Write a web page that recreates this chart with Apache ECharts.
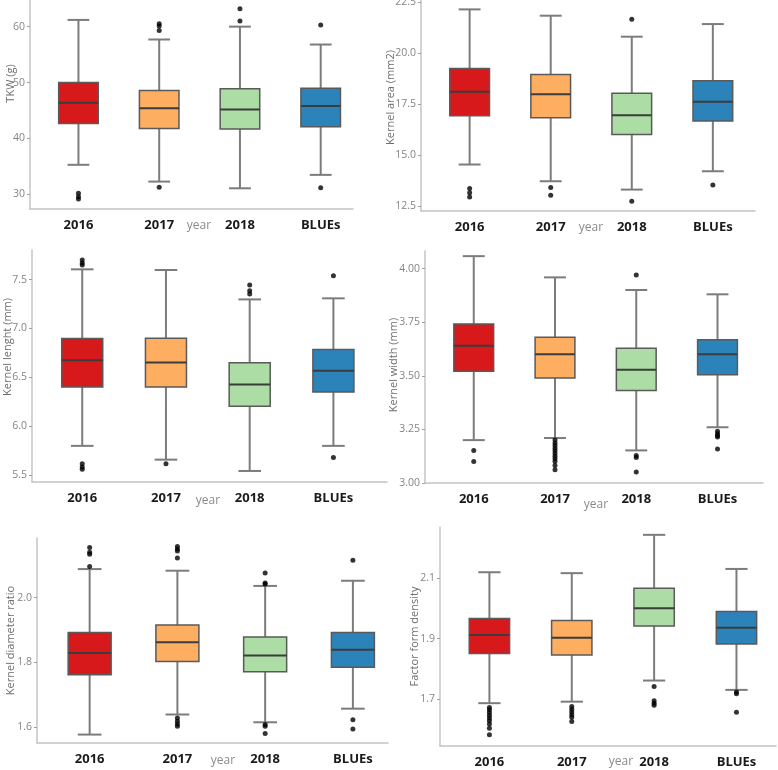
<!DOCTYPE html>
<html><head><meta charset="utf-8">
<script src="https://cdn.jsdelivr.net/npm/echarts@6/dist/echarts.min.js"></script>
<style>html,body{margin:0;padding:0;background:#fff}#c{width:778px;height:770px}</style>
</head><body><div id="c"></div>
<script>
// ---------- data ----------
const categories = ['2016', '2017', '2018', 'BLUEs'];
const colors = ['#d7191c', '#fdae61', '#abdda4', '#2b83ba'];
const xAxisTitle = 'year';

// box stats per category: [lower whisker, Q1, median, Q3, upper whisker]
const tkwBox = [[35.3, 42.7, 46.4, 50.0, 61.2], [32.3, 41.8, 45.4, 48.6, 57.7], [31.1, 41.7, 45.2, 48.9, 60.0], [33.5, 42.1, 45.8, 49.0, 56.8]];
const tkwOutliers = [[30.2, 29.6, 29.2], [60.5, 60.1, 59.3, 31.3], [63.2, 61.0], [60.3, 31.2]];
const tkwTicks = [30, 40, 50, 60];
const tkwRange = [27.4, 64.76];

const areaBox = [[14.55, 16.94, 18.12, 19.26, 22.16], [13.73, 16.84, 18.0, 18.97, 21.85], [13.32, 16.02, 16.97, 18.04, 20.82], [14.22, 16.68, 17.63, 18.66, 21.44]];
const areaOutliers = [[13.37, 13.16, 12.96], [13.42, 13.04], [21.67, 12.75], [13.54]];
const areaTicks = [12.5, 15.0, 17.5, 20.0, 22.5];
const areaRange = [12.27, 22.62];

const lengthBox = [[5.797, 6.40, 6.675, 6.897, 7.605], [5.656, 6.40, 6.651, 6.90, 7.598], [5.54, 6.203, 6.426, 6.648, 7.297], [5.797, 6.35, 6.566, 6.785, 7.308]];
const lengthOutliers = [[7.70, 7.67, 7.65, 5.615, 5.58, 5.557], [5.615], [7.444, 7.386, 7.352], [7.54, 5.677]];
const lengthTicks = [5.5, 6.0, 6.5, 7.0, 7.5];
const lengthRange = [5.427, 7.803];

const widthBox = [[3.200, 3.521, 3.640, 3.742, 4.058], [3.210, 3.490, 3.601, 3.680, 3.959], [3.152, 3.431, 3.528, 3.629, 3.900], [3.260, 3.505, 3.601, 3.668, 3.880]];
const widthOutliers = [[3.152, 3.100], [3.200, 3.187, 3.175, 3.162, 3.150, 3.138, 3.125, 3.113, 3.100, 3.082, 3.062], [3.970, 3.128, 3.119, 3.051], [3.241, 3.230, 3.221, 3.214, 3.159]];
const widthTicks = [3.00, 3.25, 3.50, 3.75, 4.00];
const widthRange = [3.0, 4.082];

const ratioBox = [[1.577, 1.762, 1.829, 1.8925, 2.088], [1.639, 1.803, 1.862, 1.915, 2.083], [1.615, 1.771, 1.821, 1.878, 2.036], [1.657, 1.785, 1.839, 1.8925, 2.052]];
const ratioOutliers = [[2.155, 2.140, 2.134, 2.096], [2.158, 2.150, 2.144, 2.122, 1.628, 1.618, 1.610, 1.603], [2.076, 2.045, 2.042, 1.608, 1.603, 1.580], [2.115, 1.623, 1.594]];
const ratioTicks = [1.6, 1.8, 2.0];
const ratioRange = [1.551, 2.184];

const densityBox = [[1.686, 1.851, 1.912, 1.967, 2.120], [1.691, 1.846, 1.903, 1.960, 2.117], [1.761, 1.942, 2.001, 2.067, 2.244], [1.730, 1.882, 1.936, 1.990, 2.131]];
const densityOutliers = [[1.672, 1.664, 1.655, 1.646, 1.637, 1.628, 1.617, 1.603, 1.581], [1.675, 1.666, 1.657, 1.648, 1.639, 1.625], [1.741, 1.694, 1.686, 1.679], [1.723, 1.717, 1.656]];
const densityTicks = [1.7, 1.9, 2.1];
const densityRange = [1.544, 2.270];

const panels = [
  { name: 'TKW (g)', box: tkwBox, out: tkwOutliers, ticks: tkwTicks, range: tkwRange, dec: 0 },
  { name: 'Kernel area (mm2)', box: areaBox, out: areaOutliers, ticks: areaTicks, range: areaRange, dec: 1 },
  { name: 'Kernel lenght (mm)', box: lengthBox, out: lengthOutliers, ticks: lengthTicks, range: lengthRange, dec: 1 },
  { name: 'Kernel width (mm)', box: widthBox, out: widthOutliers, ticks: widthTicks, range: widthRange, dec: 2 },
  { name: 'Kernel diameter ratio', box: ratioBox, out: ratioOutliers, ticks: ratioTicks, range: ratioRange, dec: 1 },
  { name: 'Factor form density', box: densityBox, out: densityOutliers, ticks: densityTicks, range: densityRange, dec: 1 }
];

// ---------- layout ----------
const layouts = [
  { left: 30, top: 0, width: 323, height: 209, xMax: 4.40, nameGap: 14, nameShift: 21, yearShift: 7.5, yearGap: 11 },
  { left: 421, top: 0, width: 334, height: 211, xMax: 4.52, nameGap: 25, nameShift: 8, yearShift: 3, yearGap: 11 },
  { left: 32, top: 250, width: 355, height: 232, xMax: 4.64, nameGap: 19, nameShift: 19, yearShift: -1.5, yearGap: 13 },
  { left: 425, top: 251, width: 338, height: 232, xMax: 4.56, nameGap: 26, nameShift: 2, yearShift: 2, yearGap: 16 },
  { left: 37, top: 538, width: 351, height: 205, xMax: 4.40, nameGap: 21, nameShift: 0, yearShift: 10.5, yearGap: 12 },
  { left: 440, top: 527, width: 336, height: 219, xMax: 4.48, nameGap: 20, nameShift: 0, yearShift: 13, yearGap: 10 }
];

const FONT = 'Open Sans';
const AXIS_COLOR = '#c4c4c4';

function renderBox(params, api) {
  const x = api.value(0);
  const lo = api.coord([x, api.value(1)]);
  const q1 = api.coord([x, api.value(2)]);
  const md = api.coord([x, api.value(3)]);
  const q3 = api.coord([x, api.value(4)]);
  const hi = api.coord([x, api.value(5)]);
  const unit = api.size([1, 0])[0];
  const hw = unit * 0.245, cw = unit * 0.135;
  const cx = lo[0];
  const ws = { stroke: '#7c7c7c', lineWidth: 2 };
  return {
    type: 'group',
    children: [
      { type: 'line', shape: { x1: cx, y1: hi[1], x2: cx, y2: q3[1] }, style: ws },
      { type: 'line', shape: { x1: cx, y1: q1[1], x2: cx, y2: lo[1] }, style: ws },
      { type: 'line', shape: { x1: cx - cw, y1: hi[1], x2: cx + cw, y2: hi[1] }, style: ws },
      { type: 'line', shape: { x1: cx - cw, y1: lo[1], x2: cx + cw, y2: lo[1] }, style: ws },
      { type: 'rect', shape: { x: cx - hw, y: q3[1], width: 2 * hw, height: q1[1] - q3[1] },
        style: { fill: colors[params.dataIndex], stroke: '#5a5a5a', lineWidth: 1.5 } },
      { type: 'line', shape: { x1: cx - hw, y1: md[1], x2: cx + hw, y2: md[1] }, style: { stroke: '#3c3c3c', lineWidth: 2 } }
    ]
  };
}

const grid = [], xAxis = [], yAxis = [], series = [];
panels.forEach((p, i) => {
  const L = layouts[i];
  grid.push({ left: L.left, top: L.top, width: L.width, height: L.height, containLabel: false, outerBoundsMode: 'none' });
  xAxis.push({
    type: 'value', gridIndex: i, min: 0.4, max: L.xMax,
    name: xAxisTitle, nameLocation: 'middle', nameGap: L.yearGap, nameMoveOverlap: false,
    nameTextStyle: { color: '#8a8a8a', fontSize: 12, fontFamily: FONT,
      padding: L.yearShift >= 0 ? [0, 0, 0, 2 * L.yearShift] : [0, -2 * L.yearShift, 0, 0] },
    axisLine: { show: true, lineStyle: { color: AXIS_COLOR, width: 1.5 } },
    axisTick: { show: false },
    splitLine: { show: false },
    axisLabel: { customValues: [1, 2, 3, 4], formatter: v => categories[Math.round(v) - 1] || '',
      color: '#1a1a1a', fontSize: 13, fontWeight: 'bold', fontFamily: FONT, margin: 10 }
  });
  yAxis.push({
    type: 'value', gridIndex: i, min: p.range[0], max: p.range[1],
    name: p.name, nameLocation: 'middle', nameGap: L.nameGap, nameMoveOverlap: false,
    nameTextStyle: { color: '#6e6e6e', fontSize: 11, fontFamily: FONT,
      padding: [0, 0, 0, 2 * L.nameShift] },
    axisLine: { show: true, lineStyle: { color: AXIS_COLOR, width: 1.5 } },
    axisTick: { show: true, customValues: p.ticks, length: 3, lineStyle: { color: '#a0a0a0' } },
    splitLine: { show: false },
    axisLabel: { customValues: p.ticks, formatter: v => Number(v).toFixed(p.dec),
      color: '#858585', fontSize: 10.5, fontFamily: FONT, margin: 5 }
  });
  series.push({
    type: 'custom', xAxisIndex: i, yAxisIndex: i, renderItem: renderBox,
    encode: { x: 0, y: [1, 2, 3, 4, 5] },
    data: p.box.map((b, k) => [k + 1].concat(b)), silent: true
  });
  const pts = [];
  p.out.forEach((vals, k) => vals.forEach(v => pts.push([k + 1, v])));
  series.push({
    type: 'scatter', xAxisIndex: i, yAxisIndex: i, data: pts,
    symbolSize: 5, itemStyle: { color: '#000' }, silent: true, z: 5
  });
});

const chart = echarts.init(document.getElementById('c'), null, { renderer: 'canvas' });
chart.setOption({ backgroundColor: '#fff', animation: false, grid, xAxis, yAxis, series });
</script></body></html>
